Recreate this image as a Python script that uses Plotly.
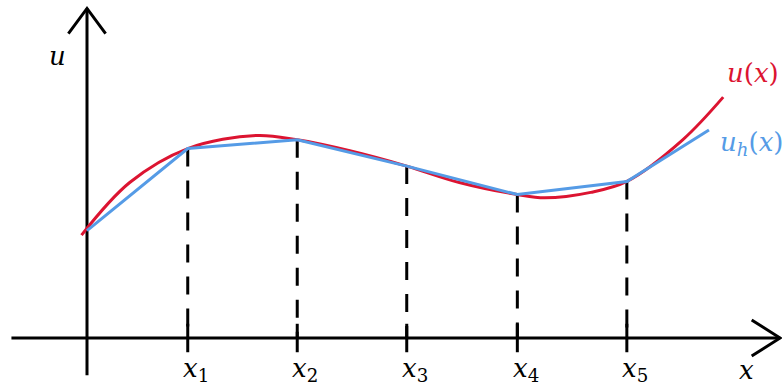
import plotly.graph_objects as go

# ---- data (in axis units) ----
node_x = [0.0, 0.92, 1.92, 2.92, 3.93, 4.93, 5.68]
node_u = [0.98, 1.73, 1.81, 1.57, 1.31, 1.43, 1.90]   # u_h(x), piecewise linear
red_x = [-0.05, 0.39, 0.92, 1.55, 1.92, 2.40, 2.92, 3.40, 3.93, 4.18, 4.60, 4.93, 5.44, 5.81]
red_u = [0.94, 1.42, 1.73, 1.85, 1.81, 1.71, 1.57, 1.42, 1.31, 1.28, 1.33, 1.43, 1.81, 2.20]
tick_labels = ["1", "2", "3", "4", "5"]
tick_x = node_x[1:6]
tick_u = node_u[1:6]

# axis extents
X_MIN, X_MAX = -0.7945, 6.347
Y_MIN, Y_MAX = -0.4566, 3.087

RED = "#dc1431"
BLUE = "#559be6"
FONT = "'DejaVu Serif', 'Liberation Serif', serif"
FS = 26

fig = go.Figure()

# axes
fig.add_trace(go.Scatter(x=[-0.69, 6.33], y=[0, 0], mode="lines",
                         line=dict(color="black", width=3), hoverinfo="skip"))
fig.add_trace(go.Scatter(x=[0, 0], y=[-0.34, 3.01], mode="lines",
                         line=dict(color="black", width=3), hoverinfo="skip"))
# arrow heads
fig.add_trace(go.Scatter(x=[6.07, 6.33, 6.07], y=[0.165, 0, -0.165], mode="lines",
                         line=dict(color="black", width=3), hoverinfo="skip"))
fig.add_trace(go.Scatter(x=[-0.17, 0, 0.17], y=[2.78, 3.01, 2.78], mode="lines",
                         line=dict(color="black", width=3), hoverinfo="skip"))

# dashed verticals
for xv, uv in zip(tick_x, tick_u):
    fig.add_trace(go.Scatter(x=[xv, xv], y=[uv, 0], mode="lines",
                             line=dict(color="black", width=3, dash="18px,14px"),
                             hoverinfo="skip"))
    fig.add_trace(go.Scatter(x=[xv, xv], y=[0.13, -0.13], mode="lines",
                             line=dict(color="black", width=3), hoverinfo="skip"))

# curves
fig.add_trace(go.Scatter(x=red_x, y=red_u, mode="lines",
                         line=dict(color=RED, width=3, shape="spline", smoothing=1.0),
                         hoverinfo="skip"))
fig.add_trace(go.Scatter(x=node_x, y=node_u, mode="lines",
                         line=dict(color=BLUE, width=3), hoverinfo="skip"))

ann = []
for xv, lab in zip(tick_x, tick_labels):
    ann.append(dict(x=xv + 0.075, y=-0.29, text="<i>x</i><sub>" + lab + "</sub>", showarrow=False,
                    xanchor="center", yanchor="middle",
                    font=dict(family=FONT, size=FS, color="black")))
ann.append(dict(x=6.02, y=-0.29, text="<i>x</i>", showarrow=False,
                font=dict(family=FONT, size=FS, color="black")))
ann.append(dict(x=-0.27, y=2.58, text="<i>u</i>", showarrow=False,
                font=dict(family=FONT, size=FS, color="black")))
ann.append(dict(x=6.08, y=2.42, text="<i>u</i>(<i>x</i>)", showarrow=False,
                font=dict(family=FONT, size=FS, color=RED)))
ann.append(dict(x=5.76, y=1.78, text="<i>u<sub>h</sub></i>(<i>x</i>)", showarrow=False,
                xanchor="left",
                font=dict(family=FONT, size=FS, color=BLUE)))

fig.update_layout(
    width=782, height=388,
    margin=dict(l=0, r=0, t=0, b=0),
    paper_bgcolor="white", plot_bgcolor="white",
    showlegend=False,
    font=dict(family=FONT),
    xaxis=dict(range=[X_MIN, X_MAX], visible=False, fixedrange=True),
    yaxis=dict(range=[Y_MIN, Y_MAX], visible=False, fixedrange=True),
    annotations=ann,
)

fig.write_html("out.html", config={"displayModeBar": False},
               post_script="document.body.style.margin='0';document.body.style.overflow='hidden';")
